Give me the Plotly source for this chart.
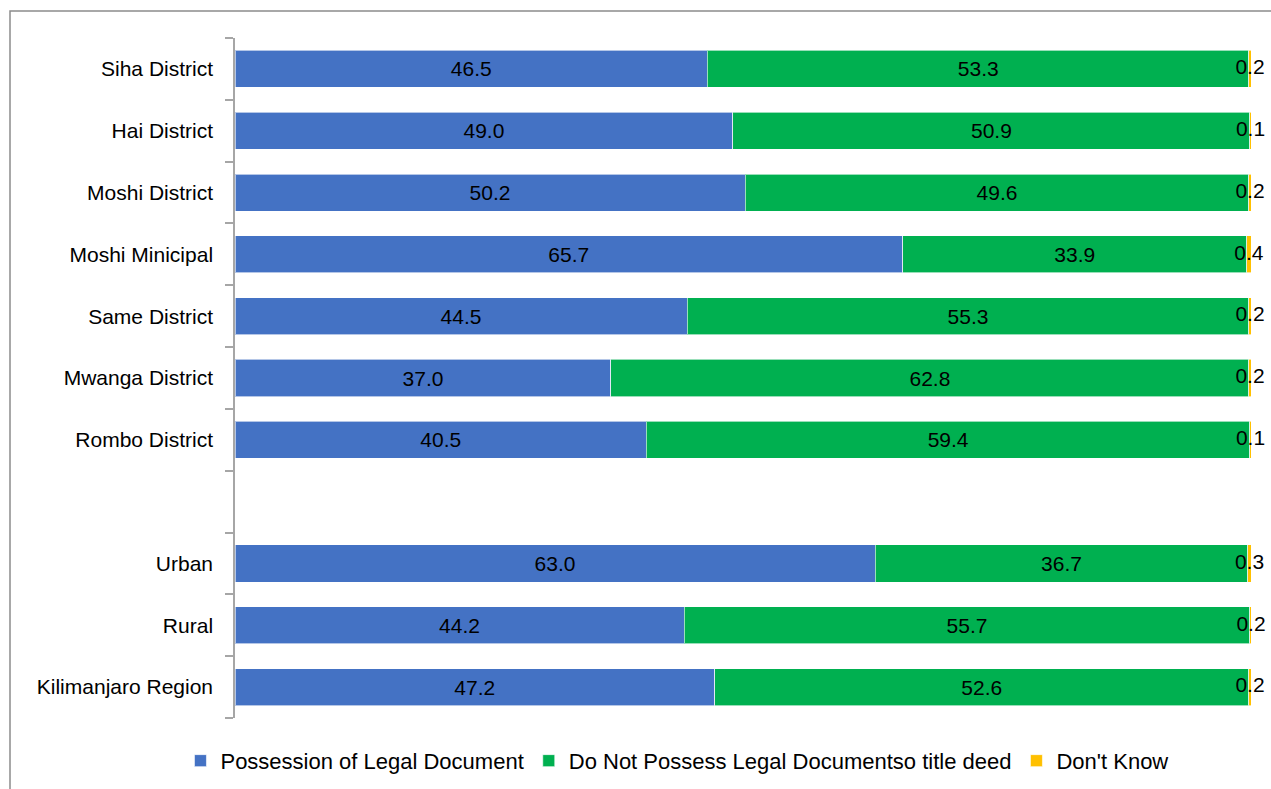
import plotly.graph_objects as go

categories = ["Kilimanjaro Region", "Rural", "Urban", " ", "Rombo District", "Mwanga District",
              "Same District", "Moshi Minicipal", "Moshi District", "Hai District", "Siha District"]
possess = [47.2, 44.2, 63.0, None, 40.5, 37.0, 44.5, 65.7, 50.2, 49.0, 46.5]
not_possess = [52.6, 55.7, 36.7, None, 59.4, 62.8, 55.3, 33.9, 49.6, 50.9, 53.3]
dont_know = [0.2, 0.2, 0.3, None, 0.1, 0.2, 0.2, 0.4, 0.2, 0.1, 0.2]

series = [
    ("Possession of Legal Document", possess, "#4472C4"),
    ("Do Not Possess Legal Documentso title deed", not_possess, "#00B050"),
    ("Don't Know", dont_know, "#FFC000"),
]

FONT = "Liberation Sans Narrow, Arial Narrow, Liberation Sans, Arial, sans-serif"

fig = go.Figure()
for i, (name, vals, color) in enumerate(series):
    fig.add_trace(go.Bar(
        y=categories, x=vals, name=name, orientation="h",
        marker=dict(color=color, line=dict(color="rgba(255,255,255,0.6)", width=1)),
        text=(["" if v is None else f"{v:.1f}" for v in vals] if i < 2 else None),
        textposition="inside", insidetextanchor="middle", textangle=0,
        constraintext="none",
        textfont=dict(family=FONT, size=21, color="black"),
        cliponaxis=False,
    ))

# labels for the thin "Don't Know" segments, centred on each segment
dk_cats, dk_x, dk_text = [], [], []
for c, a, b, d in zip(categories, possess, not_possess, dont_know):
    if d is None:
        continue
    dk_cats.append(c)
    dk_x.append(a + b + d / 2)
    dk_text.append(f"{d:.1f}")
fig.add_trace(go.Scatter(
    y=dk_cats, x=dk_x, text=dk_text, mode="text", showlegend=False,
    textposition="middle center", cliponaxis=False,
    textfont=dict(family=FONT, size=21, color="black"), hoverinfo="skip",
))

fig.update_layout(
    barmode="stack",
    bargap=0.4,
    width=1271, height=789,
    margin=dict(l=235, r=20, t=38, b=71, autoexpand=False),
    paper_bgcolor="white", plot_bgcolor="white",
    font=dict(family=FONT, size=21, color="black"),
    showlegend=True,
    legend=dict(orientation="h", x=0.435, xanchor="center", y=-0.063, yanchor="middle",
                font=dict(family=FONT, size=22, color="black"), traceorder="normal",
                itemwidth=30, tracegroupgap=0),
    xaxis=dict(range=[0, 100], visible=False, showgrid=False),
    yaxis=dict(type="category", categoryorder="array", categoryarray=categories,
               range=[-0.5, len(categories) - 0.5], automargin=False,
               showline=True, linecolor="#A6A6A6", linewidth=1.5,
               ticks="outside", tickson="boundaries", ticklen=8, tickcolor="#A6A6A6",
               tickwidth=1.5, showgrid=False, ticklabelstandoff=16,
               tickfont=dict(family=FONT, size=21, color="black")),
    shapes=[dict(type="rect", xref="paper", yref="paper",
                 x0=(10 - 235) / 1016, x1=1.2, y0=-0.3, y1=(718 - 11) / 680,
                 line=dict(color="#8C8C8C", width=1.5), fillcolor="rgba(0,0,0,0)", layer="below")],
)

fig.write_html("out.html", config={"displayModeBar": False},
               post_script="document.body.style.margin='0';document.body.style.padding='0';")
